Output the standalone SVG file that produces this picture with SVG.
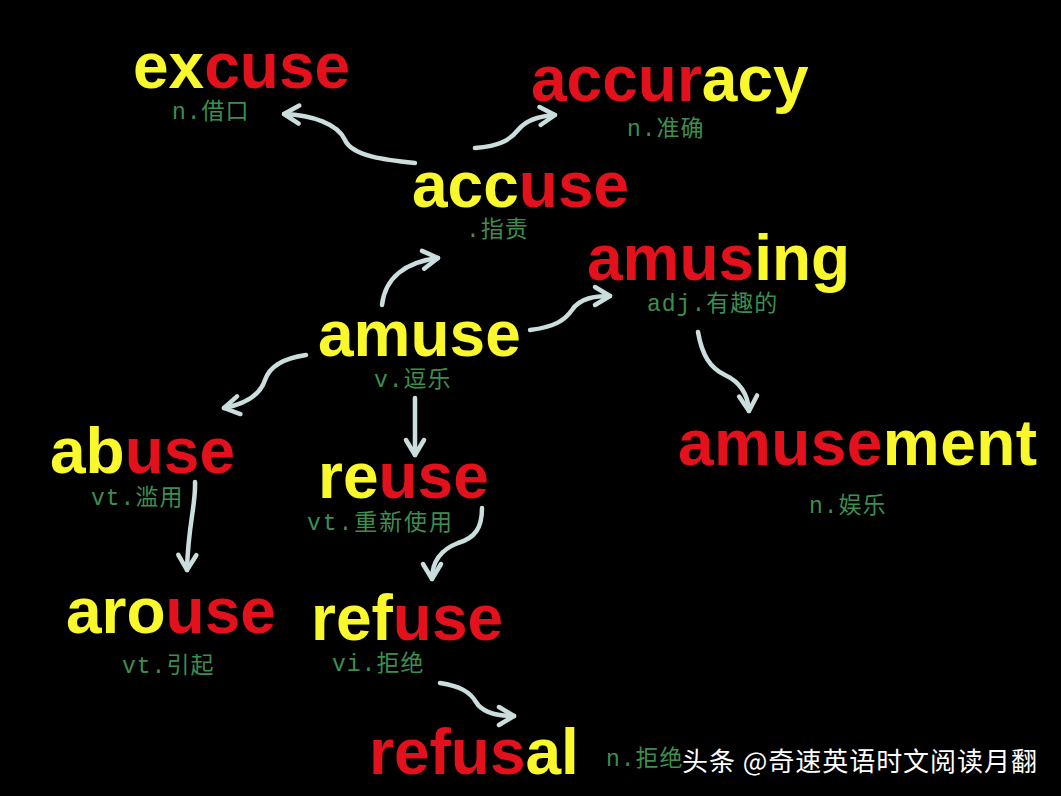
<svg xmlns="http://www.w3.org/2000/svg" width="1061" height="796" viewBox="0 0 1061 796">
<style>
.w{font-family:"Liberation Sans",Arial,sans-serif;font-weight:bold;font-size:64px}
.y{fill:#f8f82c}
.r{fill:#e3111b}
.g{font-family:"Liberation Mono","Noto Sans CJK SC",monospace;font-size:23px;letter-spacing:1px;fill:#3d8f4e}
.c{fill:none;stroke:#cadede;stroke-width:4.5;stroke-linecap:round}
.wm{font-family:"Noto Sans CJK SC","Liberation Sans",sans-serif;font-size:26px;fill:#ffffff}
</style>
<defs>
<marker id="ah" markerUnits="userSpaceOnUse" markerWidth="30" markerHeight="30" refX="0" refY="0" viewBox="-20 -15 25 30" orient="auto" overflow="visible">
<path d="M-15,-9 L0,0 L-15,9" fill="none" stroke="#cadede" stroke-width="4.5" stroke-linecap="round" stroke-linejoin="round"/>
</marker>
</defs>
<rect width="1061" height="796" fill="#000"/>
<g id="connectors">
<path class="c" marker-end="url(#ah)" d="M415,163 C385,160 352,156 345,140 C338,124 312,115 284,114"/>
<path class="c" marker-end="url(#ah)" d="M475,148 C500,146 510,140 518,130 C526,120 540,116 555,115"/>
<path class="c" marker-end="url(#ah)" d="M382,305 C385,278 405,262 438,258"/>
<path class="c" marker-end="url(#ah)" d="M530,330 C555,327 565,320 572,310 C580,298 595,296 610,296"/>
<path class="c" marker-end="url(#ah)" d="M698,332 C702,355 710,368 725,375 C740,382 748,395 749,411"/>
<path class="c" marker-end="url(#ah)" d="M306,355 C285,358 270,365 265,380 C260,395 245,404 224,408"/>
<path class="c" marker-end="url(#ah)" d="M415,398 L415,455"/>
<path class="c" marker-end="url(#ah)" d="M195,482 C196,505 188,525 187,570"/>
<path class="c" marker-end="url(#ah)" d="M482,508 C482,528 475,538 458,543 C440,550 432,562 432,579"/>
<path class="c" marker-end="url(#ah)" d="M440,683 C460,686 470,692 476,702 C482,712 495,716 514,716"/>
</g>
<g id="excuse"><text class="w" x="133" y="88"><tspan class="y">ex</tspan><tspan class="r">cuse</tspan></text><text class="g" x="172" y="119">n.借口</text></g>
<g id="accuracy"><text class="w" x="531" y="101"><tspan class="r">accur</tspan><tspan class="y">acy</tspan></text><text class="g" x="627" y="136">n.准确</text></g>
<g id="accuse"><text class="w" x="412" y="207"><tspan class="y">acc</tspan><tspan class="r">use</tspan></text><text class="g" x="466" y="237">.指责</text></g>
<g id="amusing"><text class="w" x="587" y="280"><tspan class="r">amus</tspan><tspan class="y">ing</tspan></text><text class="g" x="647" y="311">adj.有趣的</text></g>
<g id="amuse"><text class="w" x="318" y="356"><tspan class="y">amuse</tspan></text><text class="g" x="374" y="387">v.逗乐</text></g>
<g id="abuse"><text class="w" x="50" y="473"><tspan class="y">ab</tspan><tspan class="r">use</tspan></text><text class="g" x="91" y="505">vt.滥用</text></g>
<g id="reuse"><text class="w" x="318" y="498"><tspan class="y">re</tspan><tspan class="r">use</tspan></text><text class="g" x="307" y="530" textLength="146" lengthAdjust="spacing">vt.重新使用</text></g>
<g id="amusement"><text class="w" x="678" y="465" textLength="359" lengthAdjust="spacing"><tspan class="r">amuse</tspan><tspan class="y">ment</tspan></text><text class="g" x="809" y="513">n.娱乐</text></g>
<g id="arouse"><text class="w" x="66" y="633"><tspan class="y">aro</tspan><tspan class="r">use</tspan></text><text class="g" x="122" y="673">vt.引起</text></g>
<g id="refuse"><text class="w" x="311" y="640"><tspan class="y">ref</tspan><tspan class="r">use</tspan></text><text class="g" x="332" y="671">vi.拒绝</text></g>
<g id="refusal"><text class="w" x="369" y="774"><tspan class="r">refus</tspan><tspan class="y">al</tspan></text><text class="g" x="606" y="766">n.拒绝</text></g>
<g id="watermark"><text class="wm" x="682" y="771" textLength="355" lengthAdjust="spacing">头条 @奇速英语时文阅读月翻</text></g>
</svg>
